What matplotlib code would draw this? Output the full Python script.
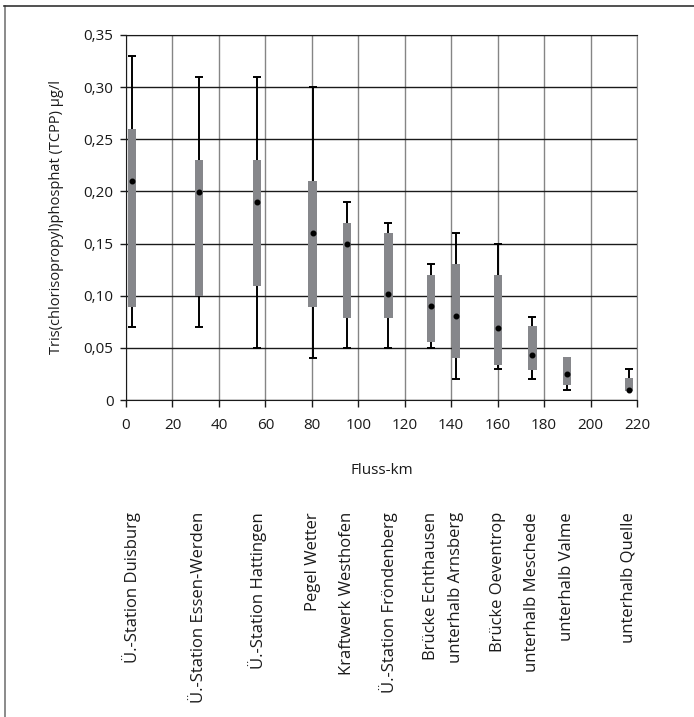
import numpy as np
import matplotlib
matplotlib.use("Agg")
import matplotlib.pyplot as plt
from matplotlib.ticker import FuncFormatter, MultipleLocator
from matplotlib.lines import Line2D

plt.rcParams['font.family'] = ['Open Sans', 'DejaVu Sans']

# Messstellen an der Ruhr (Fluss-km) und TCPP-Werte in µg/l
stations = ['Ü.-Station Duisburg', 'Ü.-Station Essen-Werden', 'Ü.-Station Hattingen',
            'Pegel Wetter', 'Kraftwerk Westhofen', 'Ü.-Station Fröndenberg',
            'Brücke Echthausen', 'unterhalb Arnsberg', 'Brücke Oeventrop',
            'unterhalb Meschede', 'unterhalb Valme', 'unterhalb Quelle']
km = [2.4, 31.4, 56.5, 80.3, 95.3, 113, 131.2, 142, 160, 175, 190, 216.5]
val_max = [0.33, 0.31, 0.31, 0.30, 0.19, 0.17, 0.13, 0.16, 0.15, 0.08, 0.04, 0.03]
q75 = [0.26, 0.23, 0.23, 0.21, 0.17, 0.16, 0.12, 0.13, 0.12, 0.071, 0.0415, 0.021]
mean = [0.21, 0.199, 0.19, 0.16, 0.15, 0.102, 0.09, 0.081, 0.069, 0.043, 0.025, 0.01]
q25 = [0.089, 0.10, 0.109, 0.089, 0.079, 0.079, 0.056, 0.04, 0.034, 0.029, 0.014, 0.009]
val_min = [0.07, 0.07, 0.05, 0.04, 0.05, 0.05, 0.05, 0.02, 0.03, 0.02, 0.01, 0.01]

km = np.array(km)
mean = np.array(mean)
lo = mean - np.array(val_min)
hi = np.array(val_max) - mean

fig = plt.figure(figsize=(6.94, 7.17), dpi=100)
ax = fig.add_axes([126 / 694, 1 - 400 / 717, 511 / 694, 365 / 717])

# Spannweite (min-max) als Fehlerbalken
ax.errorbar(km, mean, yerr=[lo, hi], fmt='none', ecolor='black',
            elinewidth=1.4, capsize=3, capthick=1.4, zorder=3)
# Quartilsbox
ax.bar(km, np.array(q75) - np.array(q25), bottom=q25, width=3.5,
       color='#86878b', zorder=4)
# Mittelwert
ax.plot(km, mean, 'o', color='black', markersize=3.3, zorder=5)

ax.set_xlim(0, 220)
ax.set_ylim(0, 0.35)
ax.xaxis.set_major_locator(MultipleLocator(20))
ax.yaxis.set_major_locator(MultipleLocator(0.05))
ax.yaxis.set_major_formatter(FuncFormatter(
    lambda v, p: '0' if abs(v) < 1e-9 else f'{v:.2f}'.replace('.', ',')))

ax.grid(axis='y', color='#1a1a1a', linewidth=1.0, zorder=1)
ax.grid(axis='x', color='#858585', linewidth=1.0, zorder=1)
ax.set_axisbelow(True)
for side in ['left', 'bottom', 'top']:
    ax.spines[side].set_color('#1a1a1a')
ax.spines['right'].set_color('#858585')

ax.tick_params(axis='both', direction='out', length=5, width=1,
               color='#1a1a1a', labelsize=11, labelcolor='#1a1a1a')
ax.tick_params(axis='x', pad=8)
ax.tick_params(axis='y', pad=5, length=4)

ax.set_xlabel('Fluss-km', fontsize=11, color='#1a1a1a')
ax.xaxis.set_label_coords(0.5, -63 / 365)
ax.set_ylabel('Tris(chlorisopropyl)phosphat (TCPP) µg/l', fontsize=10.5, color='#1a1a1a')
ax.yaxis.set_label_coords(-62 / 511, 0.5)

# Stationsnamen unter der Achse
for x, name in zip(km, stations):
    ax.text(x, -112 / 365, name, rotation=90, ha='center', va='top',
            fontsize=12, color='#1a1a1a', transform=ax.get_xaxis_transform())

# Rahmen links und oben
fig.add_artist(Line2D([4.5 / 694, 4.5 / 694], [0, 1 - 6 / 717],
                      color='#777777', linewidth=1.2, transform=fig.transFigure))
fig.add_artist(Line2D([4 / 694, 1], [1 - 6 / 717, 1 - 6 / 717],
                      color='#333333', linewidth=1.2, transform=fig.transFigure))

fig.savefig('out.png', dpi=100)
